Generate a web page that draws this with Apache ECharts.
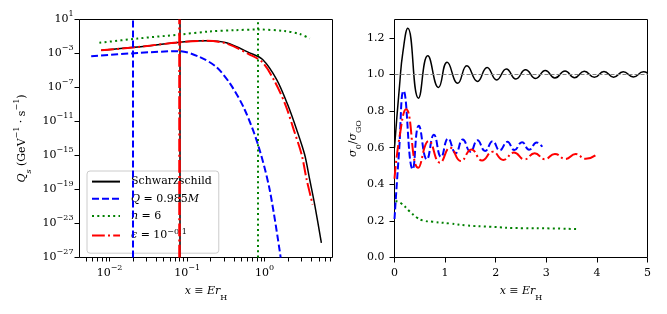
<!DOCTYPE html>
<html><head><meta charset="utf-8">
<script src="https://cdn.jsdelivr.net/npm/echarts@6/dist/echarts.min.js"></script>
<style>html,body{margin:0;padding:0;background:#fff}#c{width:667px;height:314px}</style>
</head><body><div id="c"></div>
<script>
// ---------- Left panel data (Q_s vs x, log-log) ----------
const bhX  = [0.0078, 0.023, 0.080, 0.177, 0.321, 0.640, 0.942, 1.43, 1.98, 2.59, 3.28, 3.81, 4.42, 5.39];
const bhY  = [2.4e-3, 5.8e-3, 2.1e-2, 3.1e-2, 1.8e-2, 1.2e-3, 2.0e-4, 8.7e-7, 1e-9, 1.1e-12, 1.3e-15, 1.5e-18, 1.7e-21, 5.4e-26];
const qX   = [0.0058, 0.023, 0.080, 0.145, 0.238, 0.364, 0.552, 0.82, 1.16, 1.61];
const qY   = [4.8e-4, 1.15e-3, 1.9e-3, 3.9e-4, 2.6e-5, 2.3e-7, 2.6e-10, 2e-14, 1e-19, 1e-27];
const nX   = [0.0074, 0.023, 0.080, 0.195, 0.42, 0.812, 1.81, 2.83, 3.81];
const nY   = [1.8e-2, 5.8e-2, 0.17, 0.39, 0.55, 0.67, 0.44, 0.2, 0.058];
const eX   = [0.0078, 0.023, 0.080, 0.177, 0.321, 0.640, 0.942, 1.35, 1.87, 2.37, 3.0, 3.48, 4.16];
const eY   = [2.4e-3, 5.8e-3, 2.1e-2, 3.1e-2, 1.5e-2, 7.6e-4, 8.7e-5, 5.1e-7, 7.6e-10, 1.1e-12, 1.3e-15, 1.5e-18, 1.7e-21];
// vertical reference lines (x positions)
const vBH = 0.0815, vQ = 0.0232, vN = 0.82, vE = 0.0795;

// ---------- Right panel data (sigma_0 / sigma_GO vs x) ----------
const rbhX = [0, 0.1, 0.165, 0.263, 0.474, 0.658, 0.87, 1.04, 1.25, 1.43, 1.64, 1.83, 2.02, 2.21, 2.40, 2.59, 2.79, 2.98, 3.17, 3.37, 3.56, 3.75, 3.95, 4.14, 4.33, 4.52, 4.72, 4.92, 5.0];
const rbhY = [0.60, 0.94, 1.12, 1.252, 0.870, 1.102, 0.929, 1.066, 0.952, 1.047, 0.962, 1.038, 0.970, 1.030, 0.975, 1.025, 0.978, 1.022, 0.980, 1.019, 0.982, 1.017, 0.984, 1.016, 0.985, 1.015, 0.986, 1.014, 1.008];
const rqX  = [0, 0.09, 0.18, 0.36, 0.48, 0.64, 0.78, 0.92, 1.06, 1.21, 1.35, 1.5, 1.64, 1.79, 1.94, 2.08, 2.23, 2.37, 2.52, 2.66, 2.81, 2.92];
const rqY  = [0.21, 0.58, 0.91, 0.482, 0.72, 0.536, 0.67, 0.55, 0.65, 0.57, 0.645, 0.578, 0.64, 0.582, 0.635, 0.585, 0.632, 0.587, 0.63, 0.589, 0.628, 0.605];
const rnX  = [0.02, 0.13, 0.296, 0.449, 0.56, 0.758, 1.087, 1.42, 1.877, 2.54, 3.06, 3.62];
const rnY  = [0.308, 0.296, 0.253, 0.217, 0.2025, 0.195, 0.186, 0.175, 0.168, 0.16, 0.159, 0.155];
const reX  = [0, 0.1, 0.23, 0.47, 0.68, 0.9, 1.1, 1.31, 1.52, 1.73, 1.94, 2.15, 2.36, 2.57, 2.77, 2.97, 3.17, 3.38, 3.58, 3.78, 3.97];
const reY  = [0.43, 0.66, 0.81, 0.49, 0.637, 0.518, 0.60, 0.527, 0.59, 0.530, 0.578, 0.533, 0.573, 0.536, 0.570, 0.537, 0.566, 0.538, 0.565, 0.539, 0.558];
const refLine = 1.0;

// ---------- Ticks ----------
const leftXTicks = [0.01, 0.1, 1];
const leftXMinor = [0.005,0.006,0.007,0.008,0.009,0.02,0.03,0.04,0.05,0.06,0.07,0.08,0.09,0.2,0.3,0.4,0.5,0.6,0.7,0.8,0.9,2,3,4,5,6,7];
const leftYTicks = [1e1, 1e-3, 1e-7, 1e-11, 1e-15, 1e-19, 1e-23, 1e-27];
const rightXTicks = [0, 1, 2, 3, 4, 5];
const rightYTicks = [0, 0.2, 0.4, 0.6, 0.8, 1.0, 1.2];

const F = 'DejaVu Serif';
const rich = {
  n:   {fontFamily: F, fontSize: 11, lineHeight: 20, color: '#000'},
  i:   {fontFamily: F, fontSize: 11, lineHeight: 20, fontStyle: 'italic', color: '#000'},
  sup: {fontFamily: F, fontSize: 8, lineHeight: 10, verticalAlign: 'top', color: '#000'},
  sub: {fontFamily: F, fontSize: 8, lineHeight: 12, verticalAlign: 'bottom', color: '#000'},
  subi:{fontFamily: F, fontSize: 8, lineHeight: 12, verticalAlign: 'bottom', fontStyle: 'italic', color: '#000'},
  ln:  {fontFamily: F, fontSize: 11, lineHeight: 16, color: '#000'},
  li:  {fontFamily: F, fontSize: 11, lineHeight: 16, fontStyle: 'italic', color: '#000'},
  lsup:{fontFamily: F, fontSize: 8, lineHeight: 8, verticalAlign: 'top', color: '#000'}
};
const expLabel = v => { const e = Math.round(Math.log10(v)); return '{n|10}{sup|' + (e < 0 ? '\u2212' : '') + Math.abs(e) + '}'; };
const pairs = (xs, ys) => xs.map((x, k) => [x, ys[k]]);

const legendNames = {
  'Schwarzschild': '{ln|Schwarzschild}',
  'Q': '{li|Q}{ln| = 0.985}{li|M}',
  'n': '{li|n}{ln| = 6}',
  'eps': '{li|\u03f5}{ln| = 10}{lsup|\u22120.1}'
};

const BLACK = '#000', BLUE = '#0000ff', GREEN = '#008000', RED = '#ff0000';
const DASH = [7, 3], DOT = [2, 3.3], DASHDOT = [12.8, 3.2, 2, 3.2];

const xName = '{i|x}{n| \u2261 }{i|Er}{sub|H}';
const tickCommon = {show: true, inside: false, length: 5, lineStyle: {color: '#000', width: 1}};
const noLine = {show: false, onZero: false};

function vline(x, color, width, type) {
  return {symbol: 'none', silent: true, animation: false, label: {show: false},
          lineStyle: {color, width, type}, data: [{xAxis: x}]};
}

const option = {
  animation: false,
  backgroundColor: '#fff',
  grid: [
    {left: 79.5, top: 19.5, width: 253, height: 238, show: true, borderColor: '#000', borderWidth: 1, backgroundColor: 'transparent'},
    {left: 394.5, top: 19.5, width: 253, height: 238, show: true, borderColor: '#000', borderWidth: 1, backgroundColor: 'transparent'}
  ],
  xAxis: [
    {gridIndex: 0, type: 'log', position: 'bottom', min: 0.0041, max: 7.5, axisLine: noLine, splitLine: {show: false},
     axisTick: Object.assign({}, tickCommon, {length: 4, customValues: leftXTicks.concat(leftXMinor)}),
     axisLabel: {customValues: leftXTicks, formatter: expLabel, rich, margin: 6},
     name: xName, nameLocation: 'middle', nameGap: 24, nameTextStyle: {rich}},
    {gridIndex: 1, type: 'value', position: 'bottom', min: 0, max: 5, axisLine: noLine, splitLine: {show: false},
     axisTick: Object.assign({}, tickCommon, {customValues: rightXTicks}),
     axisLabel: {customValues: rightXTicks, formatter: v => '{n|' + v + '}', rich, margin: 6},
     name: xName, nameLocation: 'middle', nameGap: 24, nameTextStyle: {rich}}
  ],
  yAxis: [
    {gridIndex: 0, type: 'log', min: 1e-27, max: 10, axisLine: noLine, splitLine: {show: false},
     axisTick: Object.assign({}, tickCommon, {customValues: leftYTicks}),
     axisLabel: {customValues: leftYTicks, formatter: expLabel, rich, margin: 6},
     name: '{i|Q}{subi|s}{n| (GeV}{sup|\u22121}{n| \u00b7 s}{sup|\u22121}{n|)}', nameLocation: 'middle', nameGap: 47, nameTextStyle: {rich}},
    {gridIndex: 1, type: 'value', min: 0, max: 1.3, axisLine: noLine, splitLine: {show: false},
     axisTick: Object.assign({}, tickCommon, {customValues: rightYTicks}),
     axisLabel: {customValues: rightYTicks, formatter: v => '{n|' + v.toFixed(1) + '}', rich, margin: 10},
     name: '{i|\u03c3}{sub|0}{n|/}{i|\u03c3}{sub|GO}', nameLocation: 'middle', nameGap: 31, nameTextStyle: {rich}}
  ],
  legend: {
    left: 87, top: 171, orient: 'vertical', itemWidth: 28, itemHeight: 14, itemGap: 6,
    padding: [5, 7, 12, 4], backgroundColor: 'rgba(255,255,255,0.8)', borderColor: '#cccccc', borderWidth: 1, borderRadius: 3,
    data: ['Schwarzschild', 'Q', 'n', 'eps'],
    itemStyle: {opacity: 0},
    formatter: name => legendNames[name],
    textStyle: {fontFamily: F, fontSize: 11, color: '#000', rich, padding: [0, 0, 0, 6]}
  },
  series: [
    {type: 'line', name: 'Schwarzschild', xAxisIndex: 0, yAxisIndex: 0, data: pairs(bhX, bhY), symbol: 'none', smooth: 0.3,
     lineStyle: {color: BLACK, width: 1.5}, itemStyle: {color: BLACK}, markLine: vline(vBH, BLACK, 1.5, 'solid')},
    {type: 'line', name: 'Q', xAxisIndex: 0, yAxisIndex: 0, data: pairs(qX, qY), symbol: 'none', smooth: 0.3,
     lineStyle: {color: BLUE, width: 2, type: DASH}, itemStyle: {color: BLUE}, markLine: vline(vQ, BLUE, 2, DASH)},
    {type: 'line', name: 'n', xAxisIndex: 0, yAxisIndex: 0, data: pairs(nX, nY), symbol: 'none', smooth: 0.3,
     lineStyle: {color: GREEN, width: 2, type: DOT}, itemStyle: {color: GREEN}, markLine: vline(vN, GREEN, 2, DOT)},
    {type: 'line', name: 'eps', xAxisIndex: 0, yAxisIndex: 0, data: pairs(eX, eY), symbol: 'none', smooth: 0.3,
     lineStyle: {color: RED, width: 2, type: DASHDOT}, itemStyle: {color: RED}, markLine: vline(vE, RED, 2.5, DASHDOT)},

    {type: 'line', name: 'r_bh', xAxisIndex: 1, yAxisIndex: 1, data: pairs(rbhX, rbhY), symbol: 'none', smooth: 0.5,
     lineStyle: {color: BLACK, width: 1.5},
     markLine: {symbol: 'none', silent: true, label: {show: false}, lineStyle: {color: '#808080', width: 1, type: [4, 2]}, data: [{yAxis: refLine}]}},
    {type: 'line', name: 'r_q', xAxisIndex: 1, yAxisIndex: 1, data: pairs(rqX, rqY), symbol: 'none', smooth: 0.5,
     lineStyle: {color: BLUE, width: 2, type: DASH}},
    {type: 'line', name: 'r_n', xAxisIndex: 1, yAxisIndex: 1, data: pairs(rnX, rnY), symbol: 'none', smooth: 0.5,
     lineStyle: {color: GREEN, width: 2, type: DOT}},
    {type: 'line', name: 'r_e', xAxisIndex: 1, yAxisIndex: 1, data: pairs(reX, reY), symbol: 'none', smooth: 0.5,
     lineStyle: {color: RED, width: 2, type: DASHDOT}}
  ]
};
const chart = echarts.init(document.getElementById('c'), null, {renderer: 'canvas'});
chart.setOption(option);
</script></body></html>
